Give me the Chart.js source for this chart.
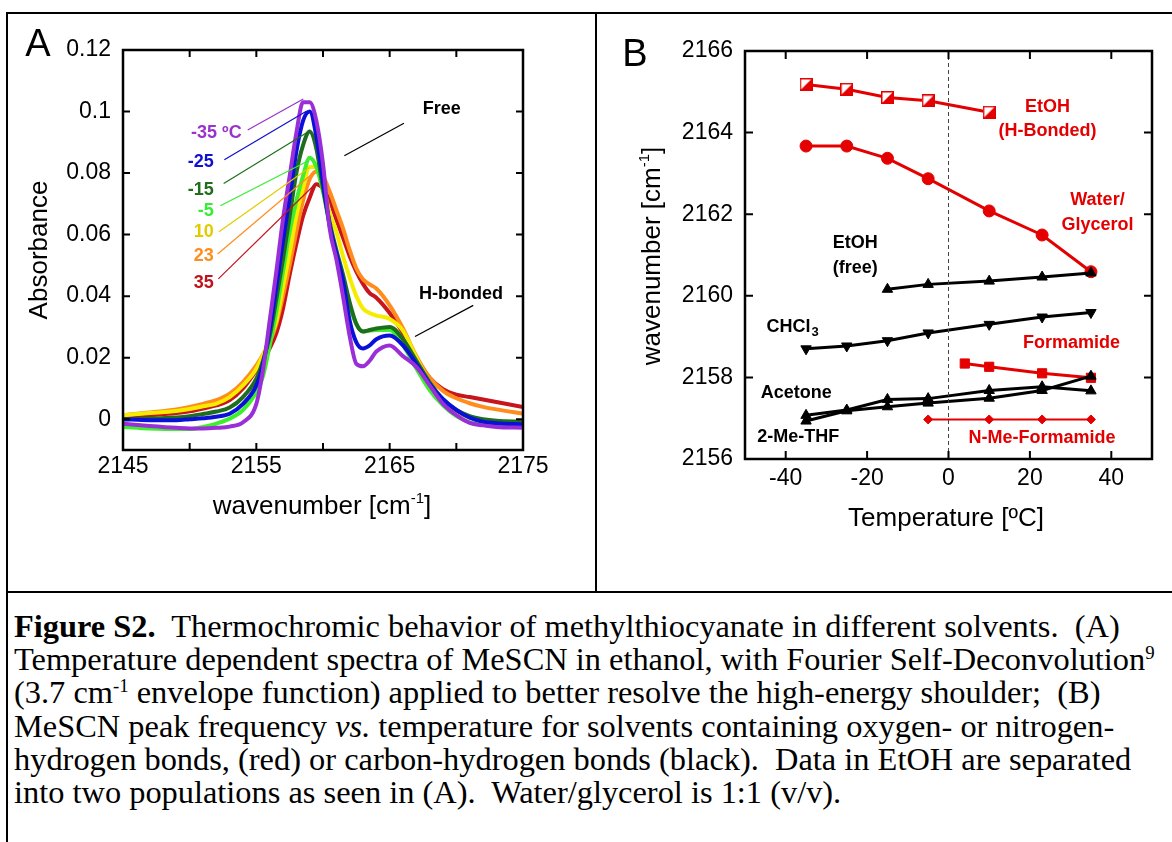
<!DOCTYPE html>
<html>
<head>
<meta charset="utf-8">
<script src="https://cdn.jsdelivr.net/npm/chart.js@4.4.0/dist/chart.umd.min.js"></script>
<style>
body { margin:0; background:#fff; width:1172px; height:842px; position:relative; overflow:hidden; font-family:"Liberation Sans", Arial, sans-serif; }
.ln { position:absolute; background:#000; }
.t { position:absolute; white-space:nowrap; transform:translate(-50%,-50%); line-height:1; color:#000; }
.rot { transform:translate(-50%,-50%) rotate(-90deg); }
.sup { font-size:15px; position:relative; top:-11px; }
#cap { position:absolute; left:14px; top:610px; font-family:"Liberation Serif","Times New Roman",serif; font-size:31px; line-height:33.2px; white-space:nowrap; transform:scaleX(1.045); transform-origin:0 0; }
#cap sup { font-size:18px; line-height:0; }
canvas { position:absolute; }
</style>
</head>
<body>
<div class="ln" style="left:6px;top:12px;width:1166px;height:2px"></div>
<div class="ln" style="left:6px;top:12px;width:2px;height:830px"></div>
<div class="ln" style="left:595px;top:12px;width:2px;height:581px"></div>
<div class="ln" style="left:6px;top:591px;width:1166px;height:2px"></div>

<canvas id="chartA" width="580" height="540" style="left:10px;top:20px"></canvas>
<canvas id="chartB" width="566" height="540" style="left:600px;top:20px"></canvas>

<div class="t" style="left:38px;top:43px;font-size:38px">A</div>
<div class="t" style="left:635px;top:53px;font-size:38px">B</div>
<div class="t rot" style="left:38px;top:250px;font-size:26px">Absorbance</div>
<div class="t" style="left:322px;top:505px;font-size:26px">wavenumber [cm<span class="sup">-1</span>]</div>
<div class="t rot" style="left:651px;top:256px;font-size:26px">wavenumber [cm<span class="sup">-1</span>]</div>
<div class="t" style="left:946px;top:517px;font-size:26px">Temperature [ºC]</div>

<div id="cap">
<div><b>Figure S2.</b>&nbsp; Thermochromic behavior of methylthiocyanate in different solvents.&nbsp; (A)</div>
<div>Temperature dependent spectra of MeSCN in ethanol, with Fourier Self-Deconvolution<sup>9</sup></div>
<div>(3.7 cm<sup>-1</sup> envelope function) applied to better resolve the high-energy shoulder;&nbsp; (B)</div>
<div>MeSCN peak frequency <i>vs.</i> temperature for solvents containing oxygen- or nitrogen-</div>
<div>hydrogen bonds, (red) or carbon-hydrogen bonds (black).&nbsp; Data in EtOH are separated</div>
<div>into two populations as seen in (A).&nbsp; Water/glycerol is 1:1 (v/v).</div>
</div>

<script>
// ---- panel A: spectra ----
const wavenumbers = [2145,2147,2149,2150,2151,2152,2153,2154,2155,2155.5,2156,2156.5,2157,2157.5,2158,2158.5,2159,2159.5,2160,2160.5,2161,2161.5,2162,2162.5,2163,2163.5,2164,2165,2166,2167,2168,2169,2170,2171,2172,2173,2175];
const spec_m35 = [-0.0015,-0.0022,-0.0028,-0.003,-0.003,-0.0028,-0.0024,-0.001,0.005,0.016,0.032,0.048,0.065,0.079,0.093,0.103,0.103,0.097,0.083,0.062,0.052,0.04,0.027,0.018,0.0172,0.019,0.022,0.024,0.0205,0.017,0.011,0.005,0.0013,-0.0012,-0.002,-0.0025,-0.0028];
const spec_m25 = [0.0,-0.0003,-0.0003,0.0,0.0003,0.0008,0.0018,0.005,0.011,0.018,0.029,0.043,0.058,0.072,0.087,0.097,0.1,0.092,0.077,0.063,0.054,0.045,0.032,0.025,0.023,0.024,0.026,0.0272,0.024,0.018,0.0115,0.0065,0.003,0.0005,-0.0008,-0.0013,-0.0017];
const spec_m15 = [0.0,0.0002,0.0006,0.001,0.0017,0.0025,0.0038,0.0072,0.0132,0.019,0.027,0.039,0.052,0.066,0.08,0.089,0.0935,0.088,0.075,0.064,0.055,0.047,0.038,0.031,0.0285,0.029,0.0295,0.03,0.026,0.019,0.012,0.0065,0.003,0.001,0.0,-0.0005,-0.0008];
const spec_m5 = [-0.0025,-0.003,-0.0032,-0.0032,-0.0025,-0.0014,0.0002,0.003,0.0088,0.014,0.024,0.035,0.048,0.061,0.071,0.079,0.085,0.082,0.074,0.063,0.054,0.046,0.037,0.031,0.0285,0.0288,0.029,0.029,0.024,0.0165,0.0095,0.0045,0.001,-0.001,-0.0018,-0.0022,-0.0025];
const spec_10 = [0.0013,0.002,0.0027,0.0033,0.0042,0.0051,0.0072,0.011,0.0164,0.021,0.026,0.032,0.043,0.054,0.066,0.075,0.082,0.082,0.076,0.067,0.061,0.053,0.046,0.04,0.036,0.0345,0.0337,0.0326,0.0288,0.02,0.012,0.006,0.0025,0.0005,-0.0005,-0.001,-0.0012];
const spec_23 = [0.0013,0.0022,0.0032,0.004,0.005,0.0062,0.0083,0.0121,0.0175,0.021,0.025,0.031,0.04,0.05,0.061,0.071,0.078,0.0805,0.079,0.074,0.068,0.062,0.055,0.049,0.0455,0.0438,0.0425,0.037,0.0295,0.0205,0.0135,0.0092,0.0068,0.0052,0.004,0.0032,0.0018];
const spec_35 = [0.0007,0.0013,0.002,0.0026,0.0035,0.0045,0.0062,0.01,0.0159,0.019,0.023,0.028,0.036,0.047,0.057,0.066,0.072,0.0764,0.075,0.071,0.065,0.059,0.053,0.048,0.044,0.041,0.0395,0.0345,0.028,0.02,0.0135,0.0098,0.008,0.0072,0.0064,0.0056,0.004];
const tempLabels = ["-35 ºC","-25","-15","-5","10","23","35"];
const xTicksA = [2145,2150,2155,2160,2165,2170,2175];
const xLabelsA = [2145,2155,2165,2175];
const yTicksA = [0,0.02,0.04,0.06,0.08,0.1,0.12];

// ---- panel B: peak frequency vs temperature ----
const temps = [-35,-25,-15,-5,10,23,35];
const tempsHb = [-35,-25,-15,-5,10];
const etohHbonded = [2165.18,2165.06,2164.86,2164.78,2164.5];
const waterGlycerol = [2163.67,2163.67,2163.37,2162.87,2162.08,2161.49,2160.59];
const tempsFree = [-15,-5,10,23,35];
const etohFree = [2160.16,2160.28,2160.36,2160.46,2160.56];
const chcl3 = [2158.7,2158.77,2158.9,2159.09,2159.3,2159.48,2159.59];
const tempsFormamide = [4,10,23,35];
const formamide = [2158.34,2158.26,2158.1,2157.99];
const acetone = [2157.07,2157.2,2157.46,2157.48,2157.68,2157.77,2157.67];
const meThf = [2156.93,2157.18,2157.28,2157.37,2157.49,2157.68,2158.03];
const tempsNmf = [-5,10,23,35];
const nMeFormamide = [2156.97,2156.97,2156.97,2156.97];
const xTicksB = [-40,-20,0,20,40];
const yTicksB = [2156,2158,2160,2162,2164,2166];

const FONT = '"Liberation Sans", Arial, sans-serif';
const RED = '#e40000';

function pts(xs, ys) { return xs.map((v, i) => ({ x: v, y: ys[i] })); }

// frame + inward ticks on all four sides
const frameTicks = {
    id: 'frameTicks',
    afterDraw(chart, args, opts) {
        const { ctx, chartArea: a, scales: { x, y } } = chart;
        const len = opts.len;
        ctx.save();
        ctx.strokeStyle = '#000';
        ctx.lineWidth = 2;
        ctx.beginPath();
        for (const t of x.ticks) {
            const px = x.getPixelForValue(t.value);
            ctx.moveTo(px, a.bottom); ctx.lineTo(px, a.bottom - len);
            ctx.moveTo(px, a.top); ctx.lineTo(px, a.top + len);
        }
        for (const t of y.ticks) {
            const py = y.getPixelForValue(t.value);
            ctx.moveTo(a.left, py); ctx.lineTo(a.left + len, py);
            ctx.moveTo(a.right, py); ctx.lineTo(a.right - len, py);
        }
        ctx.stroke();
        ctx.lineWidth = opts.lw;
        ctx.strokeRect(a.left, a.top, a.right - a.left, a.bottom - a.top);
        ctx.restore();
    }
};

// text labels and leader lines placed in data coordinates
const notes = {
    id: 'notes',
    afterDatasetsDraw(chart, args, opts) {
        const { ctx, scales: { x, y } } = chart;
        ctx.save();
        for (const l of (opts.lines || [])) {
            ctx.strokeStyle = l.color;
            ctx.lineWidth = l.w || 1.2;
            ctx.beginPath();
            ctx.moveTo(x.getPixelForValue(l.x1), y.getPixelForValue(l.y1));
            ctx.lineTo(x.getPixelForValue(l.x2), y.getPixelForValue(l.y2));
            ctx.stroke();
        }
        for (const t of (opts.texts || [])) {
            const px = x.getPixelForValue(t.x), py = y.getPixelForValue(t.y);
            ctx.font = 'bold ' + (t.size || 18) + 'px ' + FONT;
            ctx.fillStyle = t.color;
            ctx.textBaseline = 'middle';
            let w = ctx.measureText(t.text).width;
            let sw = 0;
            if (t.sub) {
                ctx.font = 'bold 13px ' + FONT;
                sw = ctx.measureText(t.sub).width;
                ctx.font = 'bold ' + (t.size || 18) + 'px ' + FONT;
            }
            let left = px;
            if ((t.align || 'center') === 'center') left = px - (w + sw) / 2;
            else if (t.align === 'right') left = px - w - sw;
            ctx.textAlign = 'left';
            ctx.fillText(t.text, left, py);
            if (t.sub) {
                ctx.font = 'bold 13px ' + FONT;
                ctx.fillText(t.sub, left + w + 1, py + 6);
            }
        }
        ctx.restore();
    }
};

function baseScale(min, max, tickList, w, h, pad, cb) {
    const s = {
        type: 'linear', min: min, max: max,
        grid: { display: false, drawTicks: false },
        border: { display: false },
        afterBuildTicks: sc => { sc.ticks = tickList.map(v => ({ value: v })); },
        ticks: { font: { family: FONT, size: 23 }, color: '#000', padding: pad, autoSkip: false, maxRotation: 0 }
    };
    if (w) s.afterFit = sc => { sc.width = w; };
    if (h) s.afterFit = sc => { sc.height = h; };
    if (cb) s.ticks.callback = cb;
    return s;
}

const specColors = ['#9a2fd8', '#0a10d8', '#1e6e1e', '#40ee30', '#f5ec00', '#ff8c1c', '#c8141c'];
const labelColors = ['#9933cc', '#1010d0', '#1e6e1e', '#33ee33', '#e0cc00', '#ff8c1c', '#c0141c'];
const specSeries = [spec_m35, spec_m25, spec_m15, spec_m5, spec_10, spec_23, spec_35];

// draw purple last so it sits on top
const specDatasets = specSeries.map((s, i) => ({
    data: pts(wavenumbers, s),
    borderColor: specColors[i],
    borderWidth: 4,
    pointRadius: 0,
    cubicInterpolationMode: 'monotone',
    fill: false,
    order: i
}));

const labelY = [0.093, 0.0836, 0.0746, 0.0677, 0.0609, 0.0532, 0.0444];
const leaderA = [
    [2154.35, 0.094, 2158.52, 0.1041],
    [2152.6, 0.0843, 2158.78, 0.1002],
    [2152.55, 0.0766, 2158.78, 0.0931],
    [2152.3, 0.0694, 2158.9, 0.084],
    [2152.2, 0.0609, 2159.0, 0.0818],
    [2152.1, 0.0537, 2159.15, 0.0796],
    [2152.15, 0.0456, 2159.27, 0.0758]
];

new Chart(document.getElementById('chartA'), {
    type: 'line',
    data: { datasets: specDatasets },
    options: {
        responsive: false, animation: false,
        layout: { padding: { left: 0, top: 30, right: 67, bottom: 0 } },
        plugins: {
            legend: { display: false }, tooltip: { enabled: false },
            frameTicks: { len: 7, lw: 2.5 },
            notes: {
                lines: leaderA.map((l, i) => ({ x1: l[0], y1: l[1], x2: l[2], y2: l[3], color: labelColors[i] }))
                    .concat([
                        { x1: 2166.07, y1: 0.0962, x2: 2161.6, y2: 0.0856, color: '#000' },
                        { x1: 2171.27, y1: 0.037, x2: 2166.9, y2: 0.0269, color: '#000' }
                    ]),
                texts: tempLabels.map((t, i) => ({
                    text: t, x: i === 0 ? 2153.9 : 2151.8, y: labelY[i], color: labelColors[i], align: 'right'
                })).concat([
                    { text: 'Free', x: 2168.9, y: 0.1008, color: '#000' },
                    { text: 'H-bonded', x: 2170.35, y: 0.0408, color: '#000' }
                ])
            }
        },
        scales: {
            x: baseScale(2145, 2175, xTicksA, 0, 110, 3, v => xLabelsA.includes(v) ? String(v) : ''),
            y: baseScale(-0.01, 0.12, yTicksA, 113, 0, 12, v => String(v))
        }
    },
    plugins: [frameTicks, notes]
});

// half filled square marker for EtOH (H-bonded)
function halfSquare(size, color) {
    const c = document.createElement('canvas');
    c.width = size; c.height = size;
    const g = c.getContext('2d');
    g.fillStyle = '#fff';
    g.fillRect(0, 0, size, size);
    g.fillStyle = color;
    g.beginPath(); g.moveTo(size, 0); g.lineTo(size, size); g.lineTo(0, size); g.closePath(); g.fill();
    g.strokeStyle = color; g.lineWidth = 1.5;
    g.strokeRect(0.75, 0.75, size - 1.5, size - 1.5);
    return c;
}

function series(xs, ys, color, style, radius, lw, extra) {
    return Object.assign({
        data: pts(xs, ys), borderColor: color, backgroundColor: color,
        borderWidth: lw, pointStyle: style, pointRadius: radius,
        pointBorderColor: color, pointBackgroundColor: color, pointBorderWidth: 1,
        tension: 0, fill: false
    }, extra || {});
}

new Chart(document.getElementById('chartB'), {
    type: 'line',
    data: {
        datasets: [
            { data: [{ x: 0, y: 2156 }, { x: 0, y: 2166 }], borderColor: '#444', borderWidth: 1, borderDash: [4, 3], pointRadius: 0 },
            series(temps, acetone, '#000', 'triangle', 6, 3),
            series(temps, meThf, '#000', 'triangle', 6, 3),
            series(temps, chcl3, '#000', 'triangle', 6, 3, { pointRotation: 180 }),
            series(tempsFree, etohFree, '#000', 'triangle', 6, 3),
            series(tempsNmf, nMeFormamide, RED, 'rectRot', 4.5, 2),
            series(tempsFormamide, formamide, RED, 'rect', 6.5, 3),
            series(temps, waterGlycerol, RED, 'circle', 6, 3),
            series(tempsHb, etohHbonded, RED, halfSquare(13, RED), 6, 3)
        ]
    },
    options: {
        responsive: false, animation: false,
        layout: { padding: { left: 0, top: 31, right: 14, bottom: 0 } },
        plugins: {
            legend: { display: false }, tooltip: { enabled: false },
            frameTicks: { len: 8, lw: 2.5 },
            notes: {
                texts: [
                    { text: 'EtOH', x: 24.3, y: 2164.63, color: RED },
                    { text: '(H-Bonded)', x: 24.3, y: 2164.04, color: RED },
                    { text: 'Water/', x: 36.6, y: 2162.35, color: RED },
                    { text: 'Glycerol', x: 36.6, y: 2161.74, color: RED },
                    { text: 'EtOH', x: -22.9, y: 2161.29, color: '#000' },
                    { text: '(free)', x: -22.9, y: 2160.68, color: '#000' },
                    { text: 'CHCl', sub: '3', x: -38.4, y: 2159.24, color: '#000' },
                    { text: 'Formamide', x: 30.2, y: 2158.84, color: RED },
                    { text: 'Acetone', x: -37.4, y: 2157.62, color: '#000' },
                    { text: '2-Me-THF', x: -36.9, y: 2156.54, color: '#000' },
                    { text: 'N-Me-Formamide', x: 23.0, y: 2156.51, color: RED }
                ]
            }
        },
        scales: {
            x: baseScale(-50, 50, xTicksB, 0, 101, 6, v => String(v)),
            y: baseScale(2156, 2166, yTicksB, 145, 0, 12, v => String(v))
        }
    },
    plugins: [frameTicks, notes]
});
</script>
</body>
</html>
